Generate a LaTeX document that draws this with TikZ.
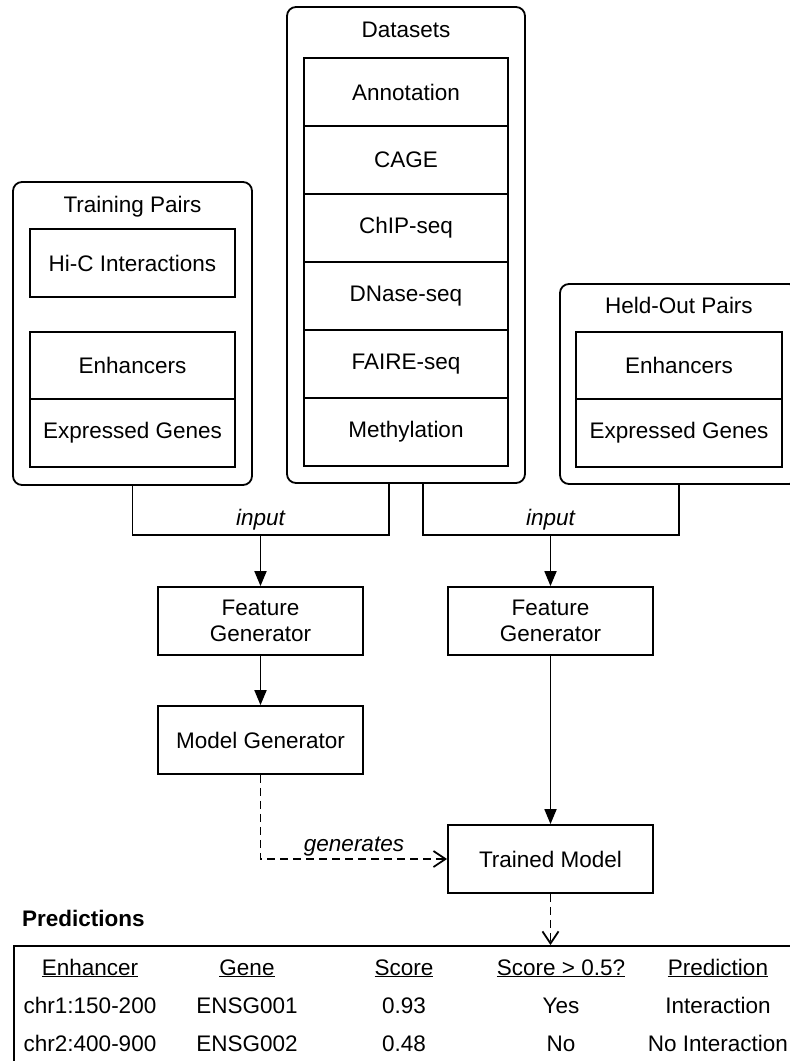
\documentclass[tikz,border=0pt]{standalone}
\usepackage{fontspec}
\setmainfont{Liberation Sans}
\usetikzlibrary{arrows.meta,positioning}

\newcommand{\figfont}{\fontsize{22.5}{26}\selectfont}

\tikzset{
  every node/.style={font=\figfont},
  box/.style={draw, line width=1.8pt, minimum width=205pt, minimum height=68pt, inner sep=0pt, align=center},
  group/.style={draw, line width=1.8pt, rounded corners=9pt, inner sep=0pt},
  title/.style={anchor=base, inner sep=0pt},
  cell/.style={anchor=base, inner sep=0pt},
  wire/.style={line width=1.8pt},
  flow/.style={line width=1.8pt, -{Triangle[length=15pt,width=12pt]}},
  gen/.style={line width=1.8pt, dash pattern=on 8pt off 5pt, -{Straight Barb[length=12pt,width=16pt]}},
  lbl/.style={anchor=base, inner sep=0pt, font=\figfont\itshape}
}

\begin{document}
\begin{tikzpicture}[x=1pt, y=-1pt]
		\clip (0,0) rectangle (790,1061);
		\fill[white] (0,0) rectangle (790,1061);
		
		% Training pairs
		\node[group, minimum width=239pt, minimum height=303pt] (train) at (132.5,333.5) {};
		\node[title] (traintitle) at (132.5,212) {Training Pairs};
		\node[box] (hic) at (132.5,263) {Hi-C Interactions};
		\node[box, minimum height=67pt] (enhL) at (132.5,365.5) {Enhancers};
		\node[box] (genL) at (132.5,433) {Expressed Genes};
		
		% Datasets
		\node[group, minimum width=238pt, minimum height=476pt] (data) at (406,245) {};
		\node[title] (datatitle) at (406,37) {Datasets};
		\foreach \name [count=\i] in {Annotation, CAGE, ChIP-seq, DNase-seq, FAIRE-seq, Methylation}
			\node[box, minimum width=204pt] (ds\i) at (406,24+68*\i) {\name};
		
		% Held-out pairs
		\node[group, minimum width=238pt, minimum height=200pt] (held) at (679,384) {};
		\node[title] (heldtitle) at (679,313) {Held-Out Pairs};
		\node[box, minimum width=206pt, minimum height=67pt] (enhR) at (679,365.5) {Enhancers};
		\node[box, minimum width=206pt] (genR) at (679,433) {Expressed Genes};
		
		% Inputs
		\coordinate (inL) at (260.5,535);
		\coordinate (inR) at (550.5,535);
		\draw[wire] (train.south) |- (inL) -| ([xshift=-17pt]data.south);
		\draw[wire] ([xshift=17pt]data.south) |- (inR) -| (held.south);
		\node[lbl] (inputL) at (260.5,525) {input};
		\node[lbl] (inputR) at (550.5,525) {input};
		
		% Generators
		\node[box] (fg1) at (260.5,621) {Feature\\Generator};
		\node[box] (fg2) at (550.5,621) {Feature\\Generator};
		\node[box] (mg) at (260.5,740) {Model Generator};
		\node[box] (tm) at (550.5,859) {Trained Model};
		
		\draw[flow] (inL) -- (fg1);
		\draw[flow] (fg1) -- (mg);
		\draw[flow] (inR) -- (fg2);
		\draw[flow] (fg2) -- (tm);
		\draw[gen] (mg.south) |- (tm.west);
		\node[lbl] (genlbl) at (354,851) {generates};
		
		% Predictions
		\node[anchor=west, inner sep=0pt, font=\figfont\bfseries] (predtitle) at (22,918) {Predictions};
		\node[draw, line width=1.8pt, anchor=north west, minimum width=800pt, minimum height=140pt, inner sep=0pt] (tbl) at (13,945) {};
		\draw[gen] (tm.south) -- (tm.south |- tbl.north);
		
		\foreach \x/\txt [count=\i] in {90/Enhancer, 247/Gene, 404/Score, 561/{Score > 0.5?}, 718/Prediction}
			\node[cell] (head\i) at (\x,975) {\underline{\txt}};
		\foreach \x/\a/\b [count=\i] in {90/chr1:150-200/chr2:400-900, 247/ENSG001/ENSG002, 404/0.93/0.48, 561/Yes/No, 718/Interaction/No Interaction} {
			\node[cell] (rowa\i) at (\x,1013) {\a};
			\node[cell] (rowb\i) at (\x,1051) {\b};
		}
		
	\end{tikzpicture}
\end{document}
